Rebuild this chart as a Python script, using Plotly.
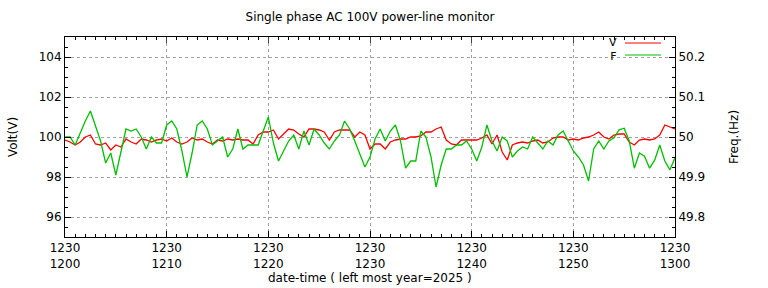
import pandas as pd
import plotly.graph_objects as go

# sampling: every 30 s from 2025-12-30 12:00 to 13:00
times = pd.date_range("2025-12-30 12:00:00", "2025-12-30 13:00:00", freq="30s")

volt = [99.85, 99.75, 99.6, 99.75, 100.0, 100.1, 99.65, 99.6, 99.7, 99.35,
        99.6, 99.5, 99.9, 99.75, 99.65, 99.9, 99.85, 99.75, 99.85, 99.9,
        99.8, 99.95, 99.75, 99.65, 99.75, 99.95, 99.85, 99.9, 99.75, 99.65,
        99.85, 99.8, 99.9, 99.85, 99.9, 99.85, 99.85, 99.65, 100.1, 100.25,
        100.25, 100.35, 99.9, 100.15, 100.4, 100.35, 100.15, 100.0, 100.4, 100.4,
        100.35, 100.25, 99.85, 100.25, 100.35, 100.35, 100.35, 100.0, 100.25, 100.1,
        99.4, 99.65, 99.65, 99.4, 99.75, 99.85, 99.9, 99.9, 100.0, 100.0,
        100.05, 100.25, 100.25, 100.4, 100.5, 99.85, 99.65, 99.6, 99.85, 99.85,
        99.85, 99.85, 99.95, 100.1, 99.65, 100.1, 99.25, 98.85, 99.6, 99.7,
        99.75, 99.7, 99.8, 99.85, 99.7, 99.75, 99.95, 100.0, 100.0, 99.85,
        99.9, 99.85, 99.95, 100.0, 100.1, 100.25, 100.0, 99.9, 100.1, 100.15,
        100.15, 99.75, 99.6, 99.85, 99.9, 99.85, 99.9, 100.1, 100.6, 100.5,
        100.4]

freq = [50.00, 50.00, 49.98, 50.01, 50.04, 50.065, 50.03, 49.99, 49.935, 49.96,
        49.905, 49.96, 50.02, 50.015, 50.02, 50.00, 49.97, 50.00, 49.985, 49.985,
        50.03, 50.04, 50.02, 49.965, 49.90, 49.96, 50.03, 50.04, 50.02, 49.98,
        49.99, 50.00, 49.95, 49.97, 50.02, 49.97, 49.98, 49.98, 49.98, 50.015,
        50.05, 49.985, 49.94, 49.965, 49.99, 50.005, 49.97, 50.015, 49.98, 50.02,
        50.005, 49.985, 49.97, 49.99, 50.005, 50.04, 50.02, 49.99, 49.955, 49.925,
        49.95, 49.995, 50.02, 49.99, 50.015, 50.03, 49.99, 49.922, 49.94, 49.94,
        50.015, 50.00, 49.95, 49.875, 49.93, 49.97, 49.97, 49.98, 49.98, 49.99,
        49.97, 49.94, 49.975, 50.03, 49.99, 49.965, 50.00, 49.99, 49.95, 49.965,
        49.975, 49.97, 50.00, 49.985, 49.97, 49.99, 49.98, 50.005, 50.015, 49.99,
        49.965, 49.95, 49.93, 49.89, 49.97, 49.99, 49.97, 49.99, 49.998, 50.018,
        50.022, 49.99, 49.922, 49.96, 49.952, 49.922, 49.942, 49.98, 49.94, 49.918,
        49.948]

series_names = ["V", "F"]
series_colors = ["#ff0000", "#00c000"]

FONT = "DejaVu Sans"
GRID = "#a0a0a0"
TXT = dict(family=FONT, size=12, color="black")

fig = go.Figure()
fig.add_trace(go.Scatter(x=times, y=volt, name=series_names[0], mode="lines",
                         line=dict(color=series_colors[0], width=1.3),
                         yaxis="y"))
fig.add_trace(go.Scatter(x=times, y=freq, name=series_names[1], mode="lines",
                         line=dict(color=series_colors[1], width=1.3),
                         yaxis="y2"))

axis_common = dict(showline=True, linecolor="black", linewidth=1, mirror=False,
                   ticks="inside", ticklen=6, tickcolor="black",
                   tickfont=TXT, zeroline=False, automargin=False)

fig.update_layout(
    width=768, height=288,
    margin=dict(l=65, r=93, t=37, b=51),
    paper_bgcolor="white", plot_bgcolor="white",
    showlegend=False,
    title=dict(text="Single phase AC 100V power-line monitor",
               x=370 / 768, xanchor="center", y=1 - 17 / 288, yanchor="middle",
               font=TXT),
    xaxis=dict(**axis_common, type="date",
               range=[times[0], times[-1]],
               dtick=600000, tick0="2025-12-30 12:00:00",
               tickformat="%m%d<br>%H%M",
               showgrid=True, gridcolor=GRID, griddash="dot", gridwidth=1,
               minor=dict(dtick=60000, ticks="inside", ticklen=3, tickcolor="black")),
    xaxis2=dict(overlaying="x", side="top", type="date", range=[times[0], times[-1]],
                matches="x", showline=True, linecolor="black", ticks="inside",
                ticklen=6, dtick=600000, tick0="2025-12-30 12:00:00",
                showticklabels=False, showgrid=False, automargin=False,
                minor=dict(dtick=60000, ticks="inside", ticklen=3, tickcolor="black")),
    yaxis=dict(**axis_common, range=[95, 105], dtick=2, tick0=96,
               showgrid=True, gridcolor=GRID, griddash="dot", gridwidth=1,
               minor=dict(dtick=0.5, ticks="inside", ticklen=3, tickcolor="black"),
               title=dict(text="Volt(V)", font=TXT, standoff=18)),
    yaxis2=dict(**axis_common, overlaying="y", side="right", range=[49.75, 50.25],
                dtick=0.1, tick0=49.8, showgrid=False,
                minor=dict(dtick=0.025, ticks="inside", ticklen=3, tickcolor="black"),
                title=dict(text="Freq.(Hz)", font=TXT, standoff=25)),
)

# x-axis title
fig.add_annotation(text="date-time ( left most year=2025 )", xref="paper", yref="paper",
                   x=0.5, y=-(278 - 237) / 200, xanchor="center", yanchor="middle",
                   showarrow=False, font=TXT)

# dummy trace for top mirror axis ticks
fig.add_trace(go.Scatter(x=[times[0]], y=[None], xaxis="x2", yaxis="y",
                         showlegend=False, hoverinfo="skip"))

# gnuplot-style key (text left of sample line, opaque background)
fig.add_shape(type="rect", xref="paper", yref="paper",
              x0=(605 - 65) / 610, x1=(668 - 65) / 610,
              y0=(237 - 62) / 200, y1=(237 - 38) / 200,
              fillcolor="white", line=dict(width=0), layer="between")
fig.add_annotation(text="<br>".join(series_names), xref="paper", yref="paper",
                   x=(618 - 65) / 610, y=(237 - 49) / 200, xanchor="right",
                   yanchor="middle", align="right", showarrow=False,
                   font=dict(family=FONT, size=11, color="black"), borderpad=0)
for color, ypix in zip(series_colors, [43, 55]):
    yp = (237 - ypix) / 200
    fig.add_shape(type="line", xref="paper", yref="paper",
                  x0=(625 - 65) / 610, x1=(661 - 65) / 610, y0=yp, y1=yp,
                  line=dict(color=color, width=1))

fig.write_html("out.html")
